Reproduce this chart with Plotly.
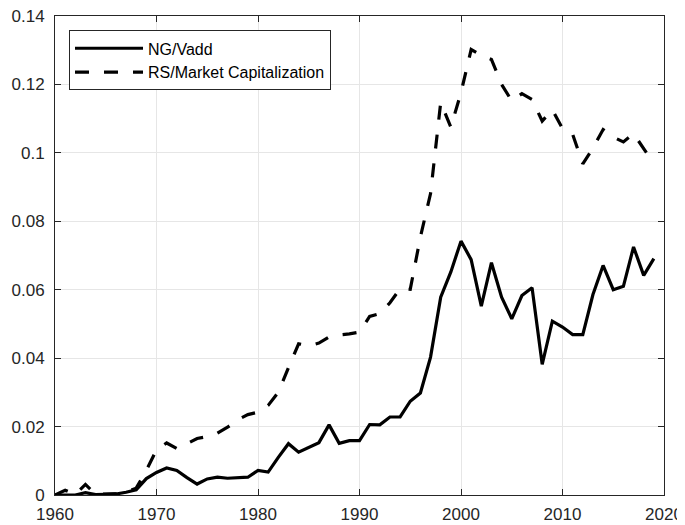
import plotly.graph_objects as go

years = list(range(1960, 2020))

ng_vadd = [
    0.0000, 0.0000, 0.0000, 0.0007, 0.0001, 0.0002, 0.0003, 0.0008, 0.0015, 0.0048,
    0.0066, 0.0079, 0.0072, 0.0051, 0.0032, 0.0047, 0.0052, 0.0049, 0.0050, 0.0052,
    0.0072, 0.0067, 0.0110, 0.0150, 0.0125, 0.0140, 0.0153, 0.0205, 0.0151, 0.0159,
    0.0159, 0.0206, 0.0205, 0.0228, 0.0228, 0.0274, 0.0298, 0.0403, 0.0578, 0.0652,
    0.0742, 0.0688, 0.0552, 0.0679, 0.0578, 0.0515, 0.0583, 0.0606, 0.0382, 0.0508,
    0.0491, 0.0469, 0.0469, 0.0586, 0.0671, 0.0600, 0.0610, 0.0725, 0.0642, 0.0691,
]

rs_mcap = [
    0.0000, 0.0014, 0.0002, 0.0031, 0.0002, 0.0002, 0.0003, 0.0008, 0.0020, 0.0072,
    0.0132, 0.0152, 0.0136, 0.0150, 0.0165, 0.0171, 0.0181, 0.0198, 0.0220, 0.0235,
    0.0242, 0.0262, 0.0300, 0.0372, 0.0442, 0.0436, 0.0444, 0.0462, 0.0468, 0.0471,
    0.0476, 0.0522, 0.0530, 0.0562, 0.0603, 0.0601, 0.0754, 0.0881, 0.1147, 0.1075,
    0.1176, 0.1302, 0.1285, 0.1273, 0.1200, 0.1152, 0.1173, 0.1156, 0.1093, 0.1126,
    0.1071, 0.1054, 0.0968, 0.1014, 0.1068, 0.1046, 0.1032, 0.1056, 0.1012, 0.0969,
]

x_ticks = [1960, 1970, 1980, 1990, 2000, 2010, 2020]
y_ticks = [0, 0.02, 0.04, 0.06, 0.08, 0.1, 0.12, 0.14]
y_tick_labels = ["0", "0.02", "0.04", "0.06", "0.08", "0.1", "0.12", "0.14"]

FONT = "Liberation Sans, Arial, Helvetica"

fig = go.Figure()
fig.add_trace(go.Scatter(
    x=years, y=ng_vadd, mode="lines", name="NG/Vadd",
    line=dict(color="black", width=3.2),
))
fig.add_trace(go.Scatter(
    x=years, y=rs_mcap, mode="lines", name="RS/Market Capitalization",
    line=dict(color="black", width=3.2, dash="14px,15px"),
))

axis_common = dict(
    showline=True, linecolor="#262626", linewidth=1, mirror="ticks",
    ticks="inside", ticklen=6, tickcolor="#262626",
    showgrid=True, gridcolor="#e6e6e6", gridwidth=1,
    zeroline=False, automargin=False, ticklabeloverflow="allow",
    tickfont=dict(family=FONT, size=17, color="#262626"),
)

fig.update_xaxes(range=[1960, 2020], tickvals=x_ticks, ticklabelstandoff=4, **axis_common)
fig.update_yaxes(range=[0, 0.14], tickvals=y_ticks, ticktext=y_tick_labels, ticklabelstandoff=6, **axis_common)

# page body has an 8px margin, so the figure is sized/offset to fill the 685x525 window
fig.update_layout(
    width=677, height=517,
    margin=dict(l=47, r=21, t=8, b=30, autoexpand=False),
    paper_bgcolor="white", plot_bgcolor="white",
    font=dict(family=FONT, size=16, color="black"),
    legend=dict(
        x=0.023, y=0.970, xanchor="left", yanchor="top",
        bgcolor="white", bordercolor="#262626", borderwidth=1,
        font=dict(family=FONT, size=16, color="black"),
        tracegroupgap=0, itemwidth=68,
    ),
    showlegend=True,
)

fig.write_html("out.html")
